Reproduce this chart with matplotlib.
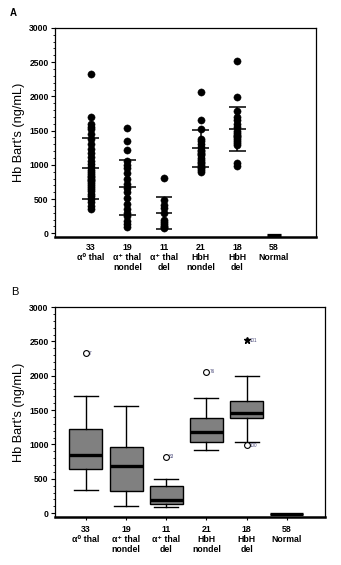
import matplotlib
matplotlib.use("Agg")
import matplotlib.pyplot as plt
from matplotlib.ticker import MultipleLocator
import numpy as np

plt.rcParams['font.family'] = ['Liberation Sans', 'DejaVu Sans']

# Group labels (n on the first line)
groups = ["33\nα⁰ thal", "19\nα⁺ thal\nnondel", "11\nα⁺ thal\ndel",
          "21\nHbH\nnondel", "18\nHbH\ndel", "58\nNormal"]

# Individual Hb Bart's values (ng/mL) for the five affected groups
a0_thal = [2330, 1700, 1600, 1560, 1520, 1450, 1380, 1300, 1230, 1180, 1120,
           1060, 1010, 970, 930, 900, 860, 840, 820, 800, 780, 760, 730, 700,
           670, 650, 620, 580, 540, 500, 450, 400, 350]
aplus_nondel = [1540, 1350, 1210, 1050, 1000, 950, 880, 800, 720, 665, 600,
                520, 430, 350, 300, 250, 180, 130, 90]
aplus_del = [805, 480, 420, 370, 300, 200, 160, 130, 110, 90, 70]
hbh_nondel = [2060, 1660, 1530, 1380, 1350, 1300, 1260, 1220, 1200, 1180, 1160,
              1140, 1100, 1070, 1040, 1020, 1000, 970, 950, 920, 900]
hbh_del = [2520, 1990, 1780, 1700, 1650, 1600, 1550, 1500, 1470, 1440, 1420,
           1400, 1380, 1350, 1320, 1290, 1030, 980]
scatter_sets = [a0_thal, aplus_nondel, aplus_del, hbh_nondel, hbh_del]

# Mean and SD per group (panel A)
means = [950, 670, 290, 1240, 1525, -20]
sds = [445, 400, 235, 265, 320, 15]

# Box-plot summaries per group (panel B)
medians = [850, 690, 190, 1185, 1460, -15]
q1 = [650, 330, 140, 1030, 1390, -15]
q3 = [1230, 960, 390, 1380, 1635, -15]
whisker_lo = [335, 105, 90, 915, 1035, -15]
whisker_hi = [1700, 1555, 500, 1670, 2000, -15]
outliers = [[2330], [], [820], [2060], [990], []]
outlier_ids = [["7"], [], ["83"], ["76"], ["100"], []]
extremes = [[], [], [], [], [2520], []]
extreme_ids = [[], [], [], [], ["101"], []]

fig = plt.figure(figsize=(3.41, 5.65), dpi=100)
axA = fig.add_axes([0.161, 0.5805, 0.766, 0.370])
axB = fig.add_axes([0.161, 0.085, 0.792, 0.3716])


def style_axis(ax):
    ax.set_ylim(-55, 3000)
    ax.yaxis.set_major_locator(MultipleLocator(500))
    ax.yaxis.set_minor_locator(MultipleLocator(100))
    ax.tick_params(axis='y', which='major', length=3, width=0.8, pad=1.5,
                   labelsize=6.2)
    ax.tick_params(axis='y', which='minor', length=1.5, width=0.6)
    for lab in ax.get_yticklabels():
        lab.set_fontweight('bold')
    for side in ['top', 'right', 'left']:
        ax.spines[side].set_linewidth(0.9)
    ax.spines['bottom'].set_linewidth(1.8)
    ax.set_ylabel("Hb Bart's (ng/mL)", fontsize=9.2, labelpad=3)
    ax.set_xticks(range(len(groups)))
    ax.set_xticklabels(groups, fontsize=6.3, fontweight='bold', linespacing=1.15)


# ---- Panel A: individual values with mean +/- SD ----
xa = np.arange(len(groups))
for i, vals in enumerate(scatter_sets):
    axA.plot(np.full(len(vals), xa[i]), vals, 'o', color='black', ms=5.2,
             mec='black', mew=0.3, zorder=3)
for i in range(len(groups)):
    hw = 0.23 if i < 5 else 0.19
    lw = 1.1 if i < 5 else 0.9
    m, s = means[i], sds[i]
    axA.hlines([m - s, m, m + s], xa[i] - hw, xa[i] + hw, color='black',
               lw=lw, zorder=4)
    axA.vlines(xa[i], m - s, m + s, color='black', lw=lw, zorder=4)
axA.set_xlim(-0.98, 6.15)
style_axis(axA)
axA.tick_params(axis='x', length=0, pad=4.5)
fig.text(0.03, 0.977, "A", fontsize=7, fontweight='bold', va='center')

# ---- Panel B: box plots ----
stats = []
for i in range(len(groups)):
    stats.append(dict(med=medians[i], q1=q1[i], q3=q3[i],
                      whislo=whisker_lo[i], whishi=whisker_hi[i],
                      fliers=[]))
axB.bxp(stats, positions=xa, widths=0.82, capwidths=0.6, patch_artist=True,
        showfliers=False,
        boxprops=dict(facecolor='#808080', edgecolor='black', linewidth=1.0),
        medianprops=dict(color='black', linewidth=2.4),
        whiskerprops=dict(color='black', linewidth=1.0),
        capprops=dict(color='black', linewidth=1.0))
for i in range(len(groups)):
    for v, lab in zip(outliers[i], outlier_ids[i]):
        axB.plot(xa[i], v, 'o', ms=4.2, mfc='white', mec='black', mew=0.8,
                 zorder=5)
        axB.text(xa[i] + 0.07, v, lab, fontsize=3.3, color='#4a4a7a',
                 va='center', ha='left')
    for v, lab in zip(extremes[i], extreme_ids[i]):
        axB.plot(xa[i], v, '*', ms=5, color='black', zorder=5)
        axB.text(xa[i] + 0.07, v, lab, fontsize=3.3, color='#4a4a7a',
                 va='center', ha='left')
axB.set_xlim(-0.77, 5.95)
style_axis(axB)
axB.tick_params(axis='x', length=2, width=0.8, pad=3.5)
fig.text(0.033, 0.483, "B", fontsize=8, va='center')

fig.savefig("out.png", dpi=100)
